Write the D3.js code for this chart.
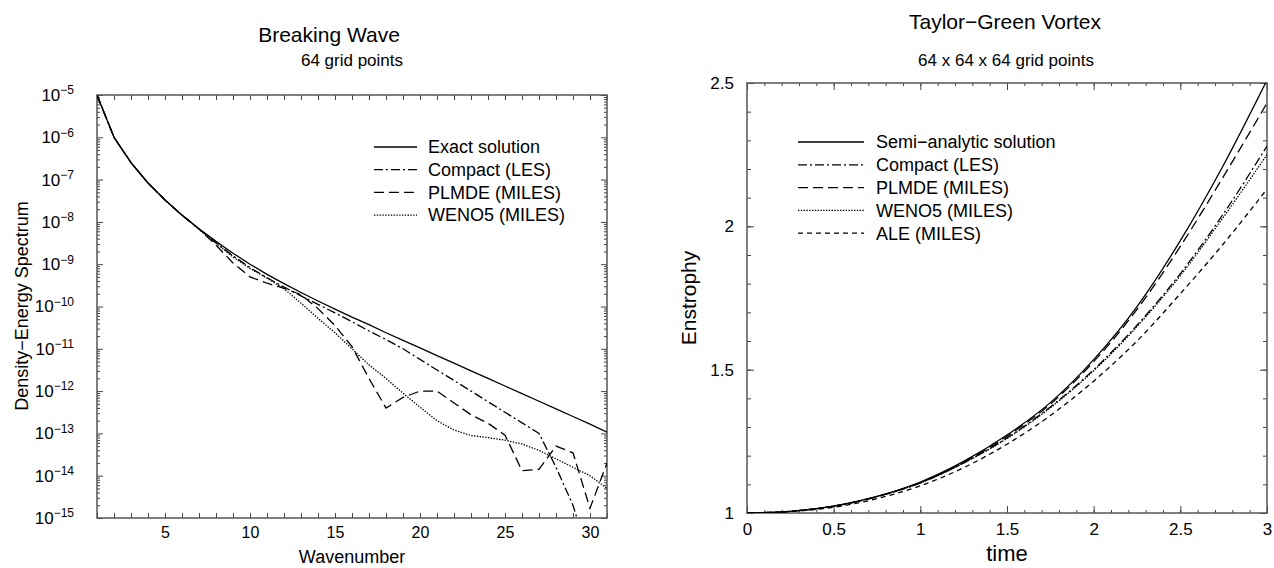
<!DOCTYPE html>
<html>
<head>
<meta charset="utf-8">
<script src="https://cdn.jsdelivr.net/npm/d3@7"></script>
<style>
  body { margin: 0; background: #fff; }
  svg { font-family: "Liberation Sans", Arial, Helvetica, sans-serif; }
  .frame { fill: none; stroke: #555; stroke-width: 1.5; }
  .tick line { stroke: #444; stroke-width: 1; }
  .domain { display: none; }
  .curve { fill: none; stroke: #000; stroke-width: 1.3; }
</style>
</head>
<body>
<svg id="chart" width="1274" height="568"></svg>
<script>
// ---- Breaking Wave data (log10 of density-energy spectrum) ----
const waveNumbers = [1, 2, 3, 4, 5, 6, 7, 8, 9, 10, 11, 12, 13, 14, 15, 16,
                     17, 18, 19, 20, 21, 22, 23, 24, 25, 26, 27, 28, 29, 30, 31];
const exactLog = [-5.00, -6.00, -6.60, -7.08, -7.48, -7.84, -8.16, -8.46, -8.74, -9.00,
                  -9.24, -9.46, -9.67, -9.87, -10.06, -10.25, -10.43, -10.62, -10.80, -10.98,
                  -11.16, -11.34, -11.52, -11.70, -11.88, -12.06, -12.24, -12.42, -12.60, -12.78, -12.97];
const compactLog = [-5.00, -6.00, -6.60, -7.08, -7.48, -7.84, -8.17, -8.50, -8.80, -9.08,
                    -9.32, -9.54, -9.75, -9.95, -10.15, -10.36, -10.58, -10.78, -11.00, -11.25,
                    -11.50, -11.75, -12.00, -12.25, -12.50, -12.75, -13.00, -13.80, -14.70, -16.00, -16.50];
const plmdeLog = [-5.00, -6.00, -6.60, -7.08, -7.48, -7.84, -8.17, -8.55, -8.97, -9.30,
                  -9.45, -9.57, -9.72, -10.05, -10.45, -10.95, -11.70, -12.40, -12.15, -12.00,
                  -12.00, -12.28, -12.56, -12.76, -13.04, -13.88, -13.85, -13.30, -13.46, -14.77, -13.70];
const wenoLog = [-5.00, -6.00, -6.60, -7.08, -7.48, -7.84, -8.17, -8.50, -8.83, -9.10,
                 -9.33, -9.58, -9.92, -10.28, -10.62, -11.00, -11.38, -11.70, -12.05, -12.38,
                 -12.70, -12.92, -13.05, -13.10, -13.16, -13.25, -13.40, -13.60, -13.80, -14.00, -14.30];
const waveDecades = [-5, -6, -7, -8, -9, -10, -11, -12, -13, -14, -15];
const waveXLabels = [5, 10, 15, 20, 25, 30];

// ---- Taylor-Green Vortex data (enstrophy) ----
const times = [0, 0.25, 0.5, 0.75, 1.0, 1.25, 1.5, 1.75, 2.0, 2.25, 2.5, 2.75, 3.0];
const semiAnalytic = [1.000, 1.006, 1.024, 1.058, 1.108, 1.180, 1.272, 1.385, 1.535, 1.720, 1.950, 2.215, 2.510];
const compactTG = [1.000, 1.006, 1.024, 1.057, 1.105, 1.175, 1.262, 1.370, 1.500, 1.655, 1.835, 2.045, 2.280];
const plmdeTG = [1.000, 1.006, 1.024, 1.057, 1.106, 1.177, 1.268, 1.380, 1.528, 1.710, 1.930, 2.175, 2.430];
const wenoTG = [1.000, 1.006, 1.024, 1.057, 1.105, 1.174, 1.260, 1.367, 1.496, 1.650, 1.828, 2.033, 2.250];
const aleTG = [1.000, 1.005, 1.020, 1.050, 1.095, 1.158, 1.240, 1.340, 1.460, 1.600, 1.765, 1.940, 2.130];
const timeTicks = [0, 0.5, 1, 1.5, 2, 2.5, 3];
const enstTicks = [1, 1.5, 2, 2.5];

const DASH = {
  solid: null,
  dashdot: "9,3,2,3",
  longdash: "10,5",
  dotted: "1.4,1.4",
  shortdash: "5,4"
};

const svg = d3.select("#chart");
svg.append("rect").attr("width", 1274).attr("height", 568).attr("fill", "#fff");

const minus = n => String(n).replace("-", "\u2212");

// ================= Left panel =================
const xL = d3.scaleLinear().domain([1, 31]).range([97, 607]);
const yL = d3.scaleLog().domain([1e-15, 1e-5]).range([518, 95]);

const left = svg.append("g");
left.append("clipPath").attr("id", "clipL")
  .append("rect").attr("x", 97).attr("y", 95).attr("width", 510).attr("height", 423);

// minor log ticks
let minorL = [];
waveDecades.slice(1).forEach(e => {
  [2, 3, 4, 5, 6, 7, 8, 9].forEach(m => minorL.push(m * Math.pow(10, e)));
});

left.append("g").attr("transform", "translate(97,0)")
  .call(d3.axisLeft(yL).tickValues(minorL).tickSize(-3).tickFormat(""));
left.append("g").attr("transform", "translate(607,0)")
  .call(d3.axisRight(yL).tickValues(minorL).tickSize(-3).tickFormat(""));
left.append("g").attr("transform", "translate(607,0)")
  .call(d3.axisRight(yL).tickValues(waveDecades.map(e => Math.pow(10, e))).tickSize(-6).tickFormat(""));

const yMajL = left.append("g").attr("transform", "translate(97,0)")
  .call(d3.axisLeft(yL).tickValues(waveDecades.map(e => Math.pow(10, e))).tickSize(-6).tickPadding(23));
yMajL.selectAll(".tick text")
  .attr("font-size", 17).attr("fill", "#000")
  .each(function(d) {
    let t = d3.select(this), e = Math.round(Math.log10(d));
    t.text("10");
    t.append("tspan").attr("dy", "-0.55em").attr("font-size", 12).text(minus(e));
  });

left.append("g").attr("transform", "translate(0,518)")
  .call(d3.axisBottom(xL).tickValues(waveNumbers).tickSize(-5).tickPadding(9)
    .tickFormat(d => waveXLabels.includes(d) ? d : ""))
  .selectAll(".tick text").attr("font-size", 16).attr("fill", "#000");
left.append("g").attr("transform", "translate(0,95)")
  .call(d3.axisTop(xL).tickValues(waveNumbers).tickSize(-5).tickFormat(""));

left.append("rect").attr("class", "frame")
  .attr("x", 97).attr("y", 95).attr("width", 510).attr("height", 423);

const lineL = d3.line().x((d, i) => xL(waveNumbers[i])).y(d => yL(Math.pow(10, d)));
const waveSeries = [
  {name: "Exact solution", values: exactLog, dash: DASH.solid},
  {name: "Compact (LES)", values: compactLog, dash: DASH.dashdot},
  {name: "PLMDE (MILES)", values: plmdeLog, dash: DASH.longdash},
  {name: "WENO5 (MILES)", values: wenoLog, dash: DASH.dotted}
];
left.append("g").attr("clip-path", "url(#clipL)")
  .selectAll("path").data(waveSeries).join("path")
  .attr("class", "curve")
  .attr("stroke-dasharray", d => d.dash)
  .attr("d", d => lineL(d.values));

const legL = left.append("g").attr("transform", "translate(374,147)");
waveSeries.forEach((s, i) => {
  let g = legL.append("g").attr("transform", `translate(0,${i * 22.7})`);
  g.append("line").attr("class", "curve").attr("x1", 0).attr("x2", 43)
    .attr("stroke-dasharray", s.dash);
  g.append("text").attr("x", 54).attr("dy", "0.35em").attr("font-size", 18).text(s.name);
});

svg.append("text").attr("x", 329).attr("y", 42).attr("text-anchor", "middle")
  .attr("font-size", 21).text("Breaking Wave");
svg.append("text").attr("x", 352).attr("y", 66).attr("text-anchor", "middle")
  .attr("font-size", 17).text("64 grid points");
svg.append("text").attr("x", 352).attr("y", 563).attr("text-anchor", "middle")
  .attr("font-size", 18).text("Wavenumber");
svg.append("text").attr("transform", "translate(28,306) rotate(-90)")
  .attr("text-anchor", "middle").attr("font-size", 18).text("Density\u2212Energy Spectrum");

// ================= Right panel =================
const xR = d3.scaleLinear().domain([0, 3]).range([747, 1267]);
const yR = d3.scaleLinear().domain([1, 2.5]).range([513, 83]);

const right = svg.append("g");
right.append("clipPath").attr("id", "clipR")
  .append("rect").attr("x", 747).attr("y", 83).attr("width", 520).attr("height", 430);

const minorT = d3.range(0, 31).map(v => v / 10);
const minorE = d3.range(10, 26).map(v => v / 10);

right.append("g").attr("transform", "translate(0,513)")
  .call(d3.axisBottom(xR).tickValues(minorT).tickSize(-3).tickFormat(""));
right.append("g").attr("transform", "translate(0,83)")
  .call(d3.axisTop(xR).tickValues(minorT).tickSize(-3).tickFormat(""));
right.append("g").attr("transform", "translate(0,83)")
  .call(d3.axisTop(xR).tickValues(timeTicks).tickSize(-7).tickFormat(""));
right.append("g").attr("transform", "translate(0,513)")
  .call(d3.axisBottom(xR).tickValues(timeTicks).tickSize(-7).tickPadding(10).tickFormat(d => d))
  .selectAll(".tick text").attr("font-size", 17).attr("fill", "#000");

right.append("g").attr("transform", "translate(747,0)")
  .call(d3.axisLeft(yR).tickValues(minorE).tickSize(-4).tickFormat(""));
right.append("g").attr("transform", "translate(1267,0)")
  .call(d3.axisRight(yR).tickValues(minorE).tickSize(-4).tickFormat(""));
right.append("g").attr("transform", "translate(1267,0)")
  .call(d3.axisRight(yR).tickValues(enstTicks).tickSize(-7).tickFormat(""));
right.append("g").attr("transform", "translate(747,0)")
  .call(d3.axisLeft(yR).tickValues(enstTicks).tickSize(-7).tickPadding(13).tickFormat(d => d))
  .selectAll(".tick text").attr("font-size", 17).attr("fill", "#000");

right.append("rect").attr("class", "frame")
  .attr("x", 747).attr("y", 83).attr("width", 520).attr("height", 430);

const lineR = d3.line().x((d, i) => xR(times[i])).y(d => yR(d)).curve(d3.curveMonotoneX);
const tgSeries = [
  {name: "Semi\u2212analytic solution", values: semiAnalytic, dash: DASH.solid},
  {name: "Compact (LES)", values: compactTG, dash: DASH.dashdot},
  {name: "PLMDE (MILES)", values: plmdeTG, dash: DASH.longdash},
  {name: "WENO5 (MILES)", values: wenoTG, dash: DASH.dotted},
  {name: "ALE (MILES)", values: aleTG, dash: DASH.shortdash}
];
right.append("g").attr("clip-path", "url(#clipR)")
  .selectAll("path").data(tgSeries).join("path")
  .attr("class", "curve")
  .attr("stroke-dasharray", d => d.dash)
  .attr("d", d => lineR(d.values));

const legR = right.append("g").attr("transform", "translate(798,142)");
tgSeries.forEach((s, i) => {
  let g = legR.append("g").attr("transform", `translate(0,${i * 22.8})`);
  g.append("line").attr("class", "curve").attr("x1", 0).attr("x2", 66)
    .attr("stroke-dasharray", s.dash);
  g.append("text").attr("x", 78).attr("dy", "0.35em").attr("font-size", 18).text(s.name);
});

svg.append("text").attr("x", 1005).attr("y", 29).attr("text-anchor", "middle")
  .attr("font-size", 21).text("Taylor\u2212Green Vortex");
svg.append("text").attr("x", 1006).attr("y", 66).attr("text-anchor", "middle")
  .attr("font-size", 17).text("64 x 64 x 64 grid points");
svg.append("text").attr("x", 1007).attr("y", 561).attr("text-anchor", "middle")
  .attr("font-size", 22).text("time");
svg.append("text").attr("transform", "translate(696,298) rotate(-90)")
  .attr("text-anchor", "middle").attr("font-size", 21).text("Enstrophy");
</script>
</body>
</html>
